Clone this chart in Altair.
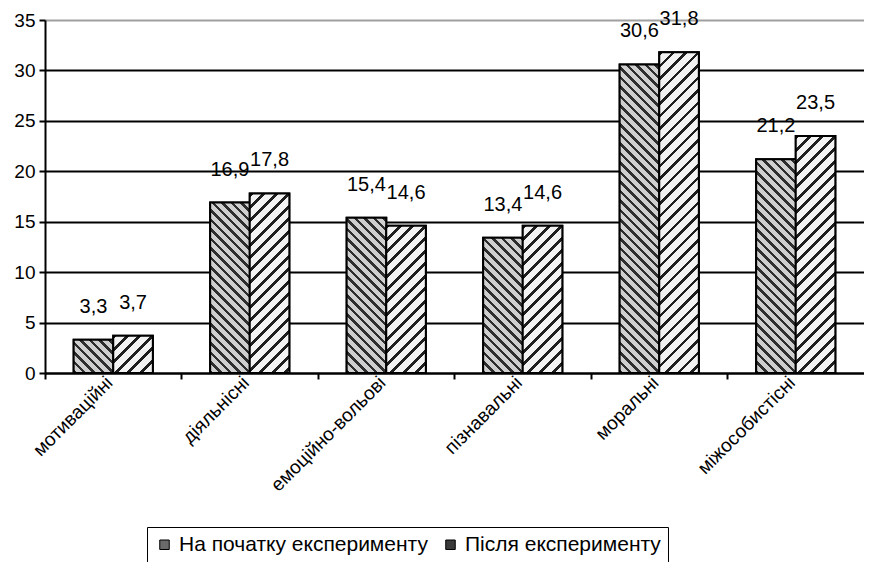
import altair as alt
import pandas as pd

# ---- data ----
categories = ["мотиваційні", "діяльнісні", "емоційно-вольові",
              "пізнавальні", "моральні", "міжособистісні"]
series_names = ["На початку експерименту", "Після експерименту"]
before = [3.3, 16.9, 15.4, 13.4, 30.6, 21.2]
after = [3.7, 17.8, 14.6, 14.6, 31.8, 23.5]
y_ticks = [0, 5, 10, 15, 20, 25, 30, 35]

# ---- layout / style ----
W, H = 819, 353
Y_MAX = 35
FONT = "Liberation Sans"
FS = 19
OFF_PAD = 0.724  # outer padding of the offset scale -> bars use ~58% of a category
step = W / len(categories)
bar_w = step / (2 + 2 * OFF_PAD)

rows = []
for s, vals in zip(series_names, [before, after]):
    for c, v in zip(categories, vals):
        rows.append({"cat": c, "series": s, "value": v,
                     "label": f"{v:.1f}".replace(".", ",")})
df = pd.DataFrame(rows)


def enc_x():
    return alt.X(
        "cat:N", sort=categories,
        scale=alt.Scale(domain=categories, paddingInner=0, paddingOuter=0),
        axis=alt.Axis(title=None, labelAngle=-45, labelFontSize=FS, labelColor="black",
                      labelFont=FONT, tickSize=6, tickWidth=2, tickColor="black",
                      domainColor="black", domainWidth=2, bandPosition=0,
                      labelPadding=-6, labelOffset=-10, labelLimit=0, grid=False),
    )


def enc_xo():
    return alt.XOffset("series:N", sort=series_names,
                       scale=alt.Scale(domain=series_names, paddingInner=0,
                                       paddingOuter=OFF_PAD))


def enc_y():
    return alt.Y(
        "value:Q",
        scale=alt.Scale(domain=[0, Y_MAX], nice=False, zero=True),
        axis=alt.Axis(title=None, values=y_ticks, labelFontSize=FS, labelColor="black",
                      labelFont=FONT, tickSize=6, tickWidth=2, tickColor="black",
                      domainColor="black", domainWidth=2, labelPadding=4,
                      grid=True, gridWidth=2,
                      gridColor={"condition": {"test": "datum.value === 35",
                                               "value": "#a0a0a0"},
                                 "value": "black"}),
    )


def stripes(h, period, dark_w, dark, light, direction):
    w = bar_w
    L = w + h
    k = (w + h) / (w * w + h * h)
    stops = []
    pos = 0.0
    while pos < L - 1e-6:
        t0 = round(pos / L, 5)
        t1 = round(min((pos + dark_w) / L, 1.0), 5)
        t2 = round(min((pos + period) / L, 1.0), 5)
        stops += [alt.GradientStop(offset=t0, color=dark),
                  alt.GradientStop(offset=t1, color=dark),
                  alt.GradientStop(offset=t1, color=light),
                  alt.GradientStop(offset=t2, color=light)]
        pos += period
    if direction == "up":      # "/" stripes
        x1, y1, x2, y2 = 0, 0, w * k, h * k
    else:                      # "\" stripes
        x1, y1, x2, y2 = 0, 1, w * k, 1 - h * k
    return alt.LinearGradient(gradient="linear", stops=stops,
                              x1=x1, y1=y1, x2=x2, y2=y2)


base = alt.Chart(df).mark_bar(stroke="black", strokeWidth=2).encode(
    x=enc_x(), xOffset=enc_xo(), y=enc_y(),
    color=alt.Color(
        "series:N",
        scale=alt.Scale(domain=series_names, range=["#6a6a6a", "#3a3a3a"]),
        legend=alt.Legend(title=None, orient="none", legendX=102, legendY=507,
                          direction="horizontal", columns=2, strokeColor="black",
                          padding=7, symbolType="square", symbolSize=90,
                          symbolStrokeColor="black", symbolStrokeWidth=1,
                          labelFontSize=21, labelFont=FONT, labelColor="black",
                          labelOffset=4, columnPadding=12, labelLimit=0,
                          gridAlign="all"),
    ),
)

layers = [base]
for si, s in enumerate(series_names):
    for c in categories:
        sub = df[(df["series"] == s) & (df["cat"] == c)]
        v = float(sub["value"].iloc[0])
        h = v / Y_MAX * H
        if si == 0:
            grad = stripes(h, 9.5, 3.8, "#2e2e2e", "#cfcfcf", "down")
        else:
            grad = stripes(h, 12.5, 3.8, "#1e1e1e", "#f2f2f2", "up")
        layers.append(
            alt.Chart(sub).mark_bar(fill=grad, stroke="black", strokeWidth=2).encode(
                x=enc_x(), xOffset=enc_xo(), y=enc_y()
            )
        )

labels = alt.Chart(df).mark_text(
    dy=-33, fontSize=20, font=FONT, color="black", baseline="middle", align="center"
).encode(x=enc_x(), xOffset=enc_xo(), y=enc_y(), text="label:N")
layers.append(labels)

chart = alt.layer(*layers).properties(
    width=W, height=H,
    autosize=alt.AutoSizeParams(type="none"),
    padding={"left": 37, "top": 12, "right": 0, "bottom": 189},
).configure_view(stroke="#a0a0a0", strokeWidth=2).configure(font=FONT, background="white")

chart.save("out.html", embed_options={"renderer": "svg", "actions": False})
